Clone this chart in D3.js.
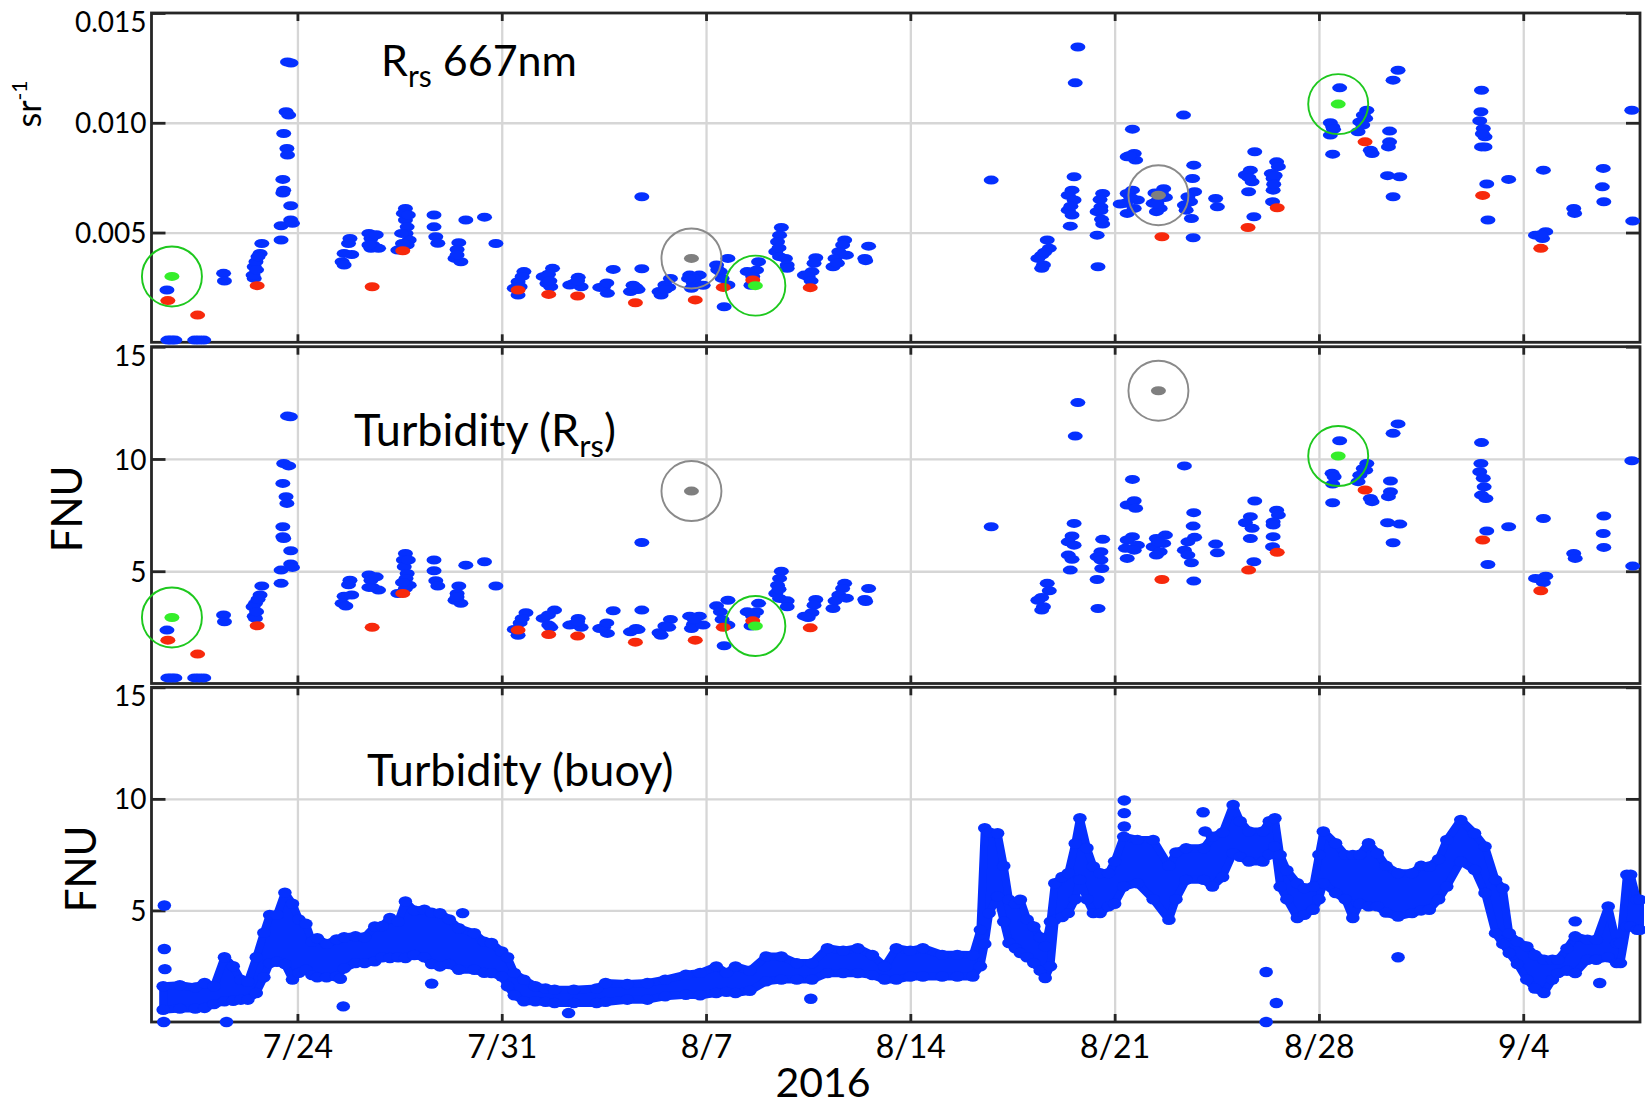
<!DOCTYPE html>
<html>
<head>
<meta charset="utf-8">
<script src="https://cdn.jsdelivr.net/npm/d3@7"></script>
<style>
body { margin: 0; background: #fff; }
svg { display: block; font-family: Lato, "Open Sans", sans-serif; }
.grid line { stroke: #d6d6d6; stroke-width: 2.3; }
.grid .domain { display: none; }
.ax .domain { display: none; }
.ax line { stroke: #262626; stroke-width: 2.8; }
.ax text { fill: #000; }
</style>
</head>
<body>
<svg id="chart" width="1645" height="1108"></svg>
<script>
// days are counted from 2016-07-19 00:00

// Rrs 667nm (sr^-1)
var rrsBlue = [
[0.53,0.00238],[0.56,0.0001],[0.68,0.0001],[0.80,0.0001],[1.48,0.0001],[1.63,0.0001],[1.79,0.0001],
[2.47,0.00314],[2.50,0.00279],
[3.52,0.00291],[3.48,0.00306],[3.52,0.00344],[3.58,0.00367],[3.72,0.00405],[3.78,0.0045],[3.65,0.0039],[3.60,0.0033],
[4.44,0.00466],
[4.66,0.01277],[4.78,0.01272],[4.61,0.0105],[4.70,0.01035],[4.53,0.00951],[4.64,0.00883],[4.66,0.00853],[4.50,0.00742],
[4.53,0.00693],[4.50,0.0068],[4.77,0.00622],[4.44,0.00531],[4.77,0.00557],[4.83,0.00542],
[6.80,0.00473],[6.86,0.004],[6.60,0.00405],[6.53,0.00367],[6.60,0.00352],[6.75,0.0045],
[7.45,0.00496],[7.52,0.00473],[7.58,0.00443],[7.52,0.00428],[7.78,0.00428],[7.45,0.00443],[7.70,0.0049],
[8.70,0.0061],[8.63,0.00587],[8.70,0.00557],[8.76,0.00526],[8.72,0.00496],[8.83,0.00466],[8.76,0.00443],[8.44,0.0042],[8.57,0.00496],[8.80,0.0058],[8.60,0.0045],
[9.68,0.0058],[9.68,0.00526],[9.74,0.00481],[9.81,0.00451],
[10.53,0.00454],[10.47,0.00423],[10.40,0.00382],[10.60,0.00367],[10.47,0.00398],
[10.77,0.00557],[11.41,0.0057],[11.80,0.0045],
[12.76,0.00322],[12.56,0.00276],[12.43,0.00246],[12.56,0.00215],[12.63,0.00253],[12.70,0.0030],
[13.74,0.00337],[13.42,0.00299],[13.55,0.00268],[13.68,0.00253],[13.60,0.0031],[13.65,0.0028],
[14.62,0.00296],[14.47,0.00268],[14.72,0.00253],[14.33,0.00261],[14.60,0.0028],
[15.82,0.00332],[15.49,0.00253],[15.62,0.00223],[15.36,0.0025],[15.60,0.0027],
[16.80,0.00663],
[16.80,0.00335],[16.60,0.0025],[16.41,0.00231],[16.67,0.0024],[16.50,0.0026],
[17.78,0.00291],[17.59,0.00261],[17.39,0.00231],[17.46,0.00215],[17.72,0.0025],[17.60,0.0024],
[18.44,0.00306],[18.77,0.00306],[18.57,0.00268],[18.50,0.00246],[18.90,0.0026],[18.60,0.0029],[18.40,0.0029],
[19.75,0.00382],[19.36,0.00352],[19.49,0.00322],[19.55,0.00291],[19.75,0.00261],[19.40,0.0033],
[19.62,0.00162],
[20.80,0.00367],[20.73,0.00329],[20.41,0.00322],[20.54,0.0026],[20.60,0.0030],
[21.58,0.00523],[21.52,0.00488],[21.45,0.00458],[21.39,0.00413],[21.52,0.0039],[21.72,0.00382],[21.78,0.00352],[21.78,0.00337],[21.50,0.0043],
[22.76,0.00385],[22.70,0.0036],[22.63,0.00322],[22.50,0.00299],[22.37,0.00306],[22.60,0.0028],
[23.75,0.00466],[23.68,0.00443],[23.55,0.00413],[23.42,0.00382],[23.35,0.00344],[23.81,0.00397],[23.50,0.0036],
[24.57,0.00438],[24.44,0.00382],[24.47,0.00372],
[28.77,0.00739],
[30.69,0.00466],[30.76,0.00428],[30.50,0.00397],[30.37,0.00382],[30.56,0.00352],[30.50,0.00337],[30.60,0.0041],
[31.74,0.01345],[31.65,0.01182],
[31.61,0.00754],[31.54,0.00693],[31.41,0.0067],[31.61,0.00648],[31.41,0.00602],[31.54,0.0058],[31.48,0.00529],[31.50,0.0062],
[32.59,0.00678],[32.53,0.00617],[32.40,0.00595],[32.53,0.0060],[32.59,0.00539],[32.40,0.00488],[32.43,0.00344],[32.50,0.0065],[32.55,0.0056],
[33.61,0.00971],[33.43,0.00845],[33.67,0.0086],[33.72,0.0083],[33.50,0.0085],
[33.61,0.00693],[33.43,0.00678],[33.78,0.00648],[33.37,0.00633],[33.67,0.0061],[33.43,0.00587],[33.19,0.0063],[33.55,0.0066],
[34.68,0.007],[34.38,0.0068],[34.74,0.0066],[34.32,0.00633],[34.56,0.0061],[34.43,0.00595],[34.50,0.0065],[34.60,0.0068],[34.45,0.0063],
[35.36,0.01035],
[35.71,0.00807],[35.67,0.00746],[35.74,0.00686],[35.51,0.00663],[35.39,0.00625],[35.45,0.00602],[35.63,0.00564],[35.69,0.00476],[35.60,0.0064],
[36.46,0.00655],[36.52,0.00617],
[37.80,0.00868],[37.65,0.00784],[37.48,0.00762],[37.71,0.00731],[37.59,0.00686],[37.77,0.00572],[37.60,0.0075],
[38.55,0.00822],[38.61,0.008],[38.37,0.00769],[38.43,0.00746],[38.43,0.00693],[38.41,0.0064],[38.50,0.0076],[38.45,0.0072],
[40.71,0.01159],
[40.39,0.01],[40.47,0.00982],[40.39,0.00944],[40.47,0.00857],[40.50,0.0097],
[41.64,0.01057],[41.52,0.01035],[41.40,0.01004],[41.34,0.00959],[41.60,0.0102],[41.50,0.0099],
[41.76,0.00875],[41.82,0.0086],
[42.71,0.01239],[42.54,0.01194],
[42.42,0.00962],[42.42,0.00913],[42.38,0.0089],
[42.35,0.00759],[42.77,0.00754],[42.54,0.00663],
[45.57,0.01148],[45.55,0.0105],[45.51,0.01009],[45.63,0.00974],[45.69,0.00936],[45.57,0.0089],[45.69,0.0089],[45.60,0.0095],
[45.75,0.00721],[45.79,0.00557],
[46.50,0.00742],
[47.77,0.00504],[47.42,0.00488],[47.66,0.00473],[47.60,0.0049],
[47.69,0.00784],
[48.73,0.0061],[48.76,0.00587],
[49.74,0.00792],[49.71,0.00708],[49.76,0.0064],
[50.72,0.01057],[50.75,0.00552]
];
var rrsRed = [[0.56,0.0019],[1.58,0.00124],[3.62,0.00258],[7.56,0.00253],[8.61,0.00417],[12.56,0.00238],[13.61,0.00218],
[14.60,0.00211],[16.58,0.0018],[18.63,0.00193],[19.59,0.0025],[20.60,0.00284],[22.57,0.00249],[34.62,0.00481],
[37.57,0.00523],[38.57,0.00613],[41.58,0.00913],[45.61,0.00669],[47.60,0.00428]];
var rrsGreen = [[0.70,0.0030],[20.69,0.00258],[40.66,0.01085]];
var rrsGray = [[18.50,0.00382],[34.50,0.0067]];

// Turbidity from Rrs (FNU)
var turbBlue = [
[0.53,2.38],[0.56,0.25],[0.68,0.25],[0.80,0.25],[1.48,0.25],[1.63,0.25],[1.79,0.25],
[2.47,3.05],[2.50,2.75],
[3.78,4.34],[3.72,3.94],[3.56,3.57],[3.48,3.42],[3.52,3.0],[3.56,2.9],[3.65,3.75],[3.60,3.2],
[4.44,4.46],
[4.66,11.91],[4.76,11.88],[4.53,9.80],[4.70,9.69],[4.50,8.91],[4.61,8.32],[4.64,8.02],[4.50,6.98],[4.50,6.54],[4.53,6.46],
[4.77,5.91],[4.44,5.05],[4.77,5.32],[4.83,5.17],
[6.80,4.6],[6.60,3.89],[6.53,3.57],[6.66,3.45],[6.86,3.94],[6.75,4.4],
[7.45,4.83],[7.52,4.6],[7.58,4.28],[7.78,4.16],[7.45,4.28],[7.70,4.75],
[8.70,5.79],[8.63,5.5],[8.66,5.2],[8.76,4.9],[8.72,4.68],[8.83,4.38],[8.70,4.23],[8.44,4.01],[8.80,5.5],[8.60,4.5],
[9.68,5.5],[9.68,5.02],[9.74,4.58],[9.81,4.34],
[10.53,4.34],[10.47,4.01],[10.40,3.71],[10.60,3.57],[10.47,3.85],
[10.77,5.27],[11.41,5.42],[11.80,4.34],
[12.83,3.15],[12.63,2.70],[12.43,2.41],[12.56,2.15],[12.70,2.9],
[13.81,3.27],[13.42,2.9],[13.61,2.6],[13.68,2.5],[13.60,3.05],
[14.62,2.9],[14.47,2.64],[14.72,2.5],[14.33,2.6],[14.60,2.75],
[15.82,3.24],[15.49,2.5],[15.62,2.23],[15.36,2.45],[15.60,2.7],
[16.80,6.28],
[16.80,3.27],[16.60,2.45],[16.41,2.3],[16.67,2.4],
[17.78,2.85],[17.59,2.56],[17.39,2.26],[17.46,2.15],[17.72,2.5],
[18.44,3.0],[18.77,3.0],[18.57,2.64],[18.50,2.45],[18.90,2.6],[18.60,2.85],
[19.75,3.71],[19.36,3.46],[19.49,3.19],[19.55,2.85],[19.75,2.6],
[19.62,1.68],
[20.80,3.57],[20.73,3.19],[20.41,3.19],[20.54,2.56],[20.60,3.0],
[21.58,5.0],[21.52,4.68],[21.45,4.38],[21.39,4.01],[21.52,3.79],[21.78,3.68],[21.78,3.42],[21.50,4.2],
[22.76,3.74],[22.70,3.49],[22.63,3.15],[22.50,2.94],[22.37,3.0],
[23.75,4.46],[23.68,4.23],[23.55,3.94],[23.42,3.68],[23.35,3.34],[23.81,3.8],
[24.57,4.23],[24.44,3.74],[24.47,3.65],
[28.77,6.98],
[30.69,4.46],[30.76,4.13],[30.50,3.83],[30.37,3.71],[30.56,3.42],[30.50,3.27],
[31.74,12.51],[31.65,11.02],
[31.61,7.13],[31.54,6.57],[31.41,6.31],[31.61,6.16],[31.41,5.72],[31.54,5.53],[31.48,5.05],
[32.59,6.42],[32.53,5.87],[32.40,5.64],[32.53,5.5],[32.56,5.12],[32.40,4.63],[32.43,3.34],
[33.61,9.09],[33.43,7.95],[33.67,8.14],[33.72,7.8],
[33.61,6.54],[33.43,6.39],[33.78,6.16],[33.37,6.02],[33.67,5.94],[33.43,5.57],
[34.74,6.61],[34.43,6.46],[34.68,6.24],[34.32,6.09],[34.56,5.87],[34.43,5.72],[34.50,6.3],
[35.39,9.69],
[35.71,7.61],[35.69,7.01],[35.74,6.51],[35.51,6.31],[35.39,5.94],[35.51,5.72],[35.63,5.38],[35.71,4.56],
[36.46,6.21],[36.52,5.82],
[37.80,8.13],[37.65,7.43],[37.48,7.16],[37.71,6.91],[37.65,6.46],[37.77,5.42],
[38.55,7.72],[38.61,7.5],[38.43,7.2],[38.43,7.06],[38.43,6.54],[38.41,6.09],
[40.71,10.81],
[40.45,9.36],[40.52,9.21],[40.47,8.88],[40.47,8.05],
[41.64,9.8],[41.52,9.58],[41.40,9.28],[41.34,8.99],[41.60,9.5],
[41.76,8.24],[41.82,8.1],
[42.71,11.56],[42.54,11.14],
[42.45,9.02],[42.45,8.54],[42.38,8.32],
[42.35,7.16],[42.77,7.1],[42.54,6.27],
[45.57,10.73],[45.55,9.8],[45.51,9.43],[45.63,9.14],[45.66,8.76],[45.57,8.39],[45.72,8.24],
[45.75,6.79],[45.79,5.3],
[46.50,6.98],
[47.77,4.78],[47.42,4.68],[47.69,4.49],
[47.69,7.35],
[48.73,5.79],[48.78,5.57],
[49.76,7.46],[49.74,6.68],[49.76,6.06],
[50.72,9.92],[50.75,5.23]
];
var turbRed = [[0.56,1.93],[1.58,1.31],[3.62,2.57],[7.56,2.50],[8.61,4.01],[12.56,2.38],[13.61,2.18],[14.60,2.11],
[16.58,1.84],[18.63,1.93],[19.59,2.5],[20.60,2.79],[22.57,2.48],[34.62,4.63],[37.59,5.05],[38.57,5.84],
[41.58,8.62],[45.61,6.39],[47.60,4.13]];
var turbGreen = [[0.70,2.94],[20.69,2.56],[40.66,10.13]];
var turbGray = [[18.50,8.57],[34.50,13.04]];

// Buoy turbidity (FNU): day, lower edge, upper edge of the dense cloud
var buoyBand = [
[0.40,0.55,1.6],[0.97,0.6,1.65],[1.50,0.6,1.55],[1.82,0.63,1.75],[2.14,0.8,1.6],[2.50,0.93,2.9],[2.80,0.95,2.5],
[3.06,1.0,1.9],[3.30,1.0,1.8],[3.59,1.3,2.9],[3.85,2.0,4.0],[4.05,2.64,4.8],[4.30,2.7,4.8],[4.57,2.6,5.8],
[4.83,1.9,5.3],[5.05,2.2,4.6],[5.29,2.34,4.4],[5.50,2.1,3.6],[5.68,2.0,3.76],[6.00,2.0,3.5],[6.34,2.04,3.7],
[6.60,2.4,3.8],[6.99,2.64,3.84],[7.30,2.64,3.8],[7.65,2.72,4.28],[7.90,2.9,4.3],[8.17,2.87,4.66],[8.45,2.9,4.5],
[8.70,2.87,5.4],[9.00,3.0,5.0],[9.35,2.9,5.03],[9.60,2.6,4.9],[9.88,2.49,4.88],[10.20,2.6,4.6],[10.53,2.34,4.2],
[11.06,2.34,3.98],[11.40,2.2,3.6],[11.65,2.19,3.54],[12.00,2.04,3.16],[12.20,1.6,2.9],[12.43,1.2,2.2],
[12.76,0.93,1.9],[13.15,0.93,1.6],[13.50,0.9,1.5],[13.81,0.85,1.45],[14.47,0.85,1.45],[15.25,0.85,1.5],
[15.56,0.9,1.75],[16.30,1.0,1.7],[16.99,1.0,1.75],[17.60,1.15,1.9],[18.31,1.22,2.12],[18.80,1.2,2.2],
[19.35,1.3,2.49],[19.70,1.35,2.2],[20.01,1.3,2.49],[20.50,1.4,2.3],[21.06,1.82,2.94],[21.58,1.9,2.94],
[22.11,1.9,2.64],[22.63,1.9,2.64],[23.16,2.19,3.31],[23.70,2.19,3.2],[24.20,2.19,3.31],[24.70,2.1,3.0],
[25.12,1.9,2.49],[25.52,1.9,3.31],[26.00,2.04,3.2],[26.43,2.04,3.31],[27.09,2.04,3.01],[27.61,2.04,3.01],
[28.14,2.04,3.0],[28.40,2.5,4.13],[28.55,3.5,8.69],[28.70,4.88,8.5],[28.99,5.63,8.46],[29.20,4.5,7.0],
[29.38,3.54,5.48],[29.60,3.3,5.3],[29.77,3.09,5.48],[30.00,2.9,4.6],[30.23,2.64,4.28],[30.45,2.3,3.8],
[30.62,1.97,3.39],[30.80,2.5,4.5],[30.95,4.58,6.22],[31.20,4.7,6.5],[31.41,4.88,6.67],[31.65,5.5,8.0],
[31.81,6.37,9.13],[32.05,5.5,7.8],[32.27,4.88,6.97],[32.50,4.88,6.67],[32.79,5.18,6.67],[33.00,5.3,7.2],
[33.31,6.07,8.31],[33.78,6.22,8.16],[34.32,5.5,8.16],[34.86,4.58,7.0],[35.10,5.5,7.6],[35.45,6.37,7.79],
[36.05,6.37,7.79],[36.35,6.07,8.31],[36.70,6.5,8.5],[37.06,7.57,9.73],[37.30,7.4,9.0],[37.60,7.19,8.54],
[38.08,7.19,8.54],[38.30,7.5,9.0],[38.49,7.87,9.13],[38.67,6.07,7.49],[38.90,5.5,6.8],[39.26,4.66,6.22],
[39.50,4.8,6.0],[39.80,5.03,6.07],[40.00,5.5,7.5],[40.15,6.22,8.54],[40.57,5.78,8.01],[40.90,5.5,7.49],
[41.16,4.66,7.49],[41.40,5.3,7.5],[41.70,5.18,8.01],[42.00,5.18,7.57],[42.30,4.9,7.0],[42.71,4.73,6.67],
[43.19,4.88,6.67],[43.50,5.0,7.0],[43.78,5.03,6.97],[44.10,5.5,7.3],[44.38,6.07,8.16],[44.86,7.19,9.06],
[45.33,6.82,8.46],[45.69,5.78,7.87],[46.05,3.98,6.37],[46.30,3.5,6.0],[46.52,3.09,3.98],[46.80,2.6,3.6],
[47.12,1.9,3.39],[47.40,1.5,3.0],[47.71,1.3,2.79],[48.00,1.9,2.79],[48.19,2.19,2.79],[48.50,2.3,3.3],
[48.78,2.19,3.84],[49.20,2.79,3.69],[49.50,2.79,3.69],[49.91,2.9,5.18],[50.20,2.64,3.54],[50.33,2.64,3.54],
[50.55,4.28,6.6],[50.68,4.28,6.6],[50.90,4.13,5.48],[51.00,4.13,5.48]
];
var buoyOut = [[0.44,5.22],[0.44,3.27],[0.46,2.37],[0.42,0],[2.57,0],[6.47,1.94],[6.57,0.7],[9.60,1.72],[10.66,4.88],
[14.29,0.4],[22.59,1.04],[33.33,9.93],[33.33,9.36],[33.33,8.76],[36.03,9.4],[36.10,8.54],[38.19,2.24],[38.54,0.85],
[38.19,0],[42.71,2.9],[48.78,4.51],[49.62,1.75]];

var yTicks1 = [0.005, 0.010, 0.015];
var yTicks2 = [5, 10, 15];
var xLabel = "2016";

var BLUE = "#0530ff", RED = "#f7290c", GREEN = "#35ee2a", GRAY = "#7f7f7f";

var svg = d3.select("#chart");
var start = new Date(2016, 6, 19), end = new Date(2016, 8, 8);
function day(d) { return new Date(+start + d * 864e5); }

var left = 151.5, right = 1640;
var x = d3.scaleTime().domain([start, end]).range([left, right]);

var panels = [
  {top: 13, bottom: 342.3, max: 0.015, ticks: yTicks1, fmt: d3.format(".3f")},
  {top: 346.7, bottom: 683.5, max: 15, ticks: yTicks2, fmt: d3.format("d")},
  {top: 687.3, bottom: 1022, max: 15, ticks: yTicks2, fmt: d3.format("d")}
];
panels.forEach(function(p) {
  p.y = d3.scaleLinear().domain([0, p.max]).range([p.bottom, p.top]);
});

// grid + axes for each panel
panels.forEach(function(p, i) {
  var h = p.bottom - p.top, w = right - left;
  svg.append("g").attr("class", "grid")
    .attr("transform", "translate(0," + p.bottom + ")")
    .call(d3.axisBottom(x).ticks(d3.timeWeek.every(1)).tickSize(-h).tickFormat(""));
  svg.append("g").attr("class", "grid")
    .attr("transform", "translate(" + left + ",0)")
    .call(d3.axisLeft(p.y).tickValues(p.ticks.slice(0, 2)).tickSize(-w).tickFormat(""));

  svg.append("rect")
    .attr("x", left).attr("y", p.top)
    .attr("width", w).attr("height", h)
    .attr("fill", "none").attr("stroke", "#262626").attr("stroke-width", 2.8);

  var la = svg.append("g").attr("class", "ax")
    .attr("transform", "translate(" + left + ",0)")
    .call(d3.axisLeft(p.y).tickValues(p.ticks).tickSize(-14).tickPadding(5).tickFormat(p.fmt));
  la.selectAll("text").attr("font-size", 28).attr("font-family", "Lato")
    .attr("dy", function(d) { return d === p.max ? "0.66em" : "0.36em"; });
  la.selectAll("line").attr("stroke-width", 2);

  svg.append("g").attr("class", "ax")
    .attr("transform", "translate(" + right + ",0)")
    .call(d3.axisRight(p.y).tickValues(p.ticks).tickSize(-14).tickFormat(""))
    .selectAll("line").attr("stroke-width", 2);

  svg.append("g").attr("class", "ax")
    .attr("transform", "translate(0," + p.top + ")")
    .call(d3.axisTop(x).ticks(d3.timeWeek.every(1)).tickSize(-8).tickFormat(""));

  var ba = svg.append("g").attr("class", "ax")
    .attr("transform", "translate(0," + p.bottom + ")")
    .call(d3.axisBottom(x).ticks(d3.timeWeek.every(1)).tickSize(-8).tickPadding(13)
      .tickFormat(i === 2 ? d3.timeFormat("%-m/%-d") : ""));
  ba.selectAll("text").attr("font-size", 32).attr("font-family", "Lato");
});

// scatter marks
function dots(p, data, color, rx, ry) {
  svg.append("g").selectAll("ellipse").data(data).enter().append("ellipse")
    .attr("cx", function(d) { return x(day(d[0])); })
    .attr("cy", function(d) { return p.y(d[1]); })
    .attr("rx", rx).attr("ry", ry)
    .attr("fill", color);
}
function rings(p, data, color) {
  svg.append("g").selectAll("circle").data(data).enter().append("circle")
    .attr("cx", function(d) { return x(day(d[0])); })
    .attr("cy", function(d) { return p.y(d[1]); })
    .attr("r", 30)
    .attr("fill", "none").attr("stroke", color).attr("stroke-width", 1.9);
}

dots(panels[0], rrsBlue, BLUE, 7.5, 4.5);
dots(panels[0], rrsRed, RED, 7.5, 4.5);
dots(panels[0], rrsGray, GRAY, 7.5, 4.5);
dots(panels[0], rrsGreen, GREEN, 7.5, 4.5);
rings(panels[0], rrsGreen, "#1ec81e");
rings(panels[0], rrsGray, "#8a8a8a");

dots(panels[1], turbBlue, BLUE, 7.5, 4.5);
dots(panels[1], turbRed, RED, 7.5, 4.5);
dots(panels[1], turbGray, GRAY, 7.5, 4.5);
dots(panels[1], turbGreen, GREEN, 7.5, 4.5);
rings(panels[1], turbGreen, "#1ec81e");
rings(panels[1], turbGray, "#8a8a8a");

// buoy cloud
var p3 = panels[2];
var band = d3.area()
  .x(function(d) { return x(day(d[0])); })
  .y0(function(d) { return p3.y(d[1]); })
  .y1(function(d) { return p3.y(d[2]); });
svg.append("path").datum(buoyBand)
  .attr("d", band)
  .attr("fill", BLUE).attr("stroke", BLUE)
  .attr("stroke-width", 8).attr("stroke-linejoin", "round");
dots(p3, buoyBand.map(function(d) { return [d[0], d[1]]; }), BLUE, 6.8, 5.2);
dots(p3, buoyBand.map(function(d) { return [d[0], d[2]]; }), BLUE, 6.8, 5.2);
dots(p3, buoyOut, BLUE, 6.8, 5.2);

// titles
var t1 = svg.append("text").attr("x", 381).attr("y", 76).attr("font-size", 43);
t1.append("tspan").text("R");
t1.append("tspan").attr("dy", 11).attr("font-size", 30).text("rs");
t1.append("tspan").attr("dy", -11).text(" 667nm");

var t2 = svg.append("text").attr("x", 354).attr("y", 446).attr("font-size", 45);
t2.append("tspan").text("Turbidity (R");
t2.append("tspan").attr("dy", 11).attr("font-size", 31).text("rs");
t2.append("tspan").attr("dy", -11).text(")");

svg.append("text").attr("x", 367).attr("y", 786).attr("font-size", 45).text("Turbidity (buoy)");

// y titles
var sr = svg.append("text").attr("transform", "translate(41,104) rotate(-90)")
  .attr("text-anchor", "middle").attr("font-size", 34);
sr.append("tspan").text("sr");
sr.append("tspan").attr("dy", -14).attr("font-size", 21).text("-1");

svg.append("text").attr("transform", "translate(82,509) rotate(-90)")
  .attr("text-anchor", "middle").attr("font-size", 42).text("FNU");
svg.append("text").attr("transform", "translate(96,869) rotate(-90)")
  .attr("text-anchor", "middle").attr("font-size", 42).text("FNU");

svg.append("text").attr("x", 823).attr("y", 1097)
  .attr("text-anchor", "middle").attr("font-size", 41).text(xLabel);
</script>
</body>
</html>
